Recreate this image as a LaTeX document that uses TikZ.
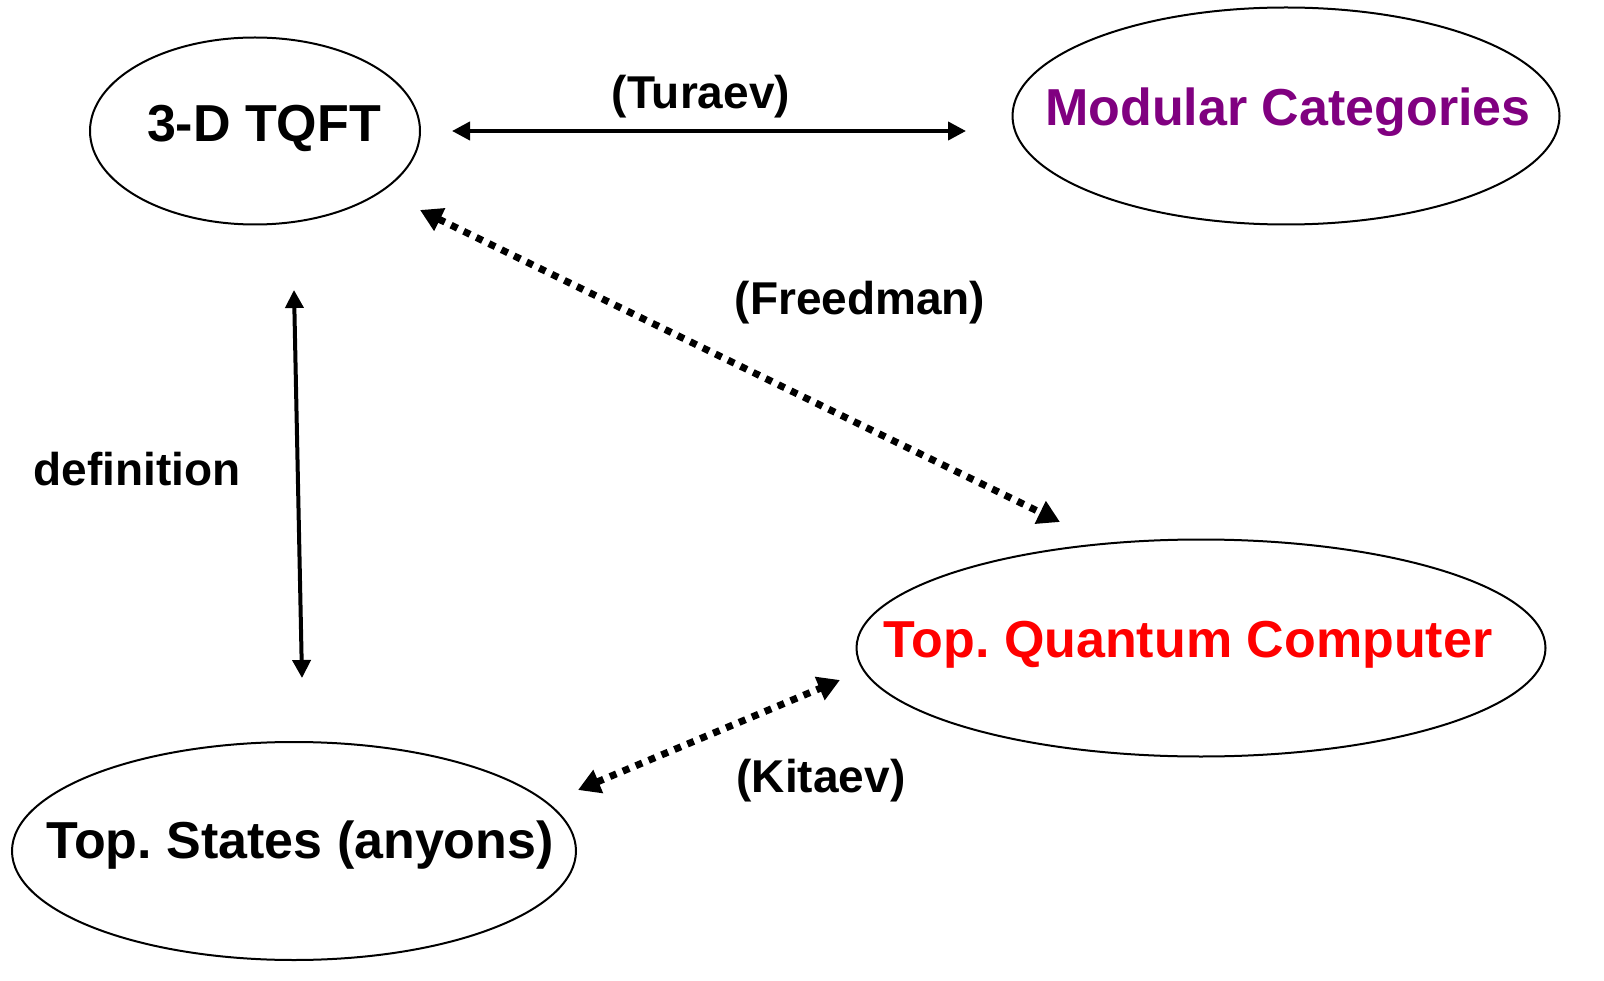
\documentclass[tikz,border=0pt]{standalone}
\usepackage{fontspec}
\setmainfont{Liberation Sans}
\usetikzlibrary{arrows.meta}
\usetikzlibrary{shapes.geometric}
\definecolor{modpurple}{RGB}{128,0,128}
\definecolor{tqcred}{RGB}{255,0,0}
\tikzset{
	bubble/.style={draw, ellipse, line width=2pt, inner sep=0pt},
	bigtext/.style={font=\fontsize{52}{60}\selectfont\bfseries},
	linktext/.style={font=\fontsize{46}{54}\selectfont\bfseries},
	solidlink/.style={line width=4pt, {Triangle[length=18pt,width=18pt]}-{Triangle[length=18pt,width=18pt]}},
	dotlink/.style={line width=7pt, dash pattern=on 7pt off 7pt, {Triangle[length=22pt,width=24pt]}-{Triangle[length=22pt,width=24pt]}}
}
\newcommand{\drawLink}[3]{
	\draw[#3] (#1) -- (#2);
}
\frenchspacing

\begin{document}
\begin{tikzpicture}[x=1pt, y=-1pt]
	\useasboundingbox (0,0) rectangle (1604,981);

	\node[bubble, minimum width=330pt, minimum height=187pt] (TQFT) at (255,131) {};
	\node[bigtext] (TQFT_T) at (264,128) {3-D TQFT};
	\node[bubble, minimum width=547pt, minimum height=217pt] (MOD) at (1286,116) {};
	\node[bigtext, text=modpurple] (MOD_T) at (1288,112) {Modular Categories};
	\node[bubble, minimum width=689pt, minimum height=217pt] (TQC) at (1201,648) {};
	\node[bigtext, text=tqcred] (TQC_T) at (1188,645) {Top. Quantum Computer};
	\node[bubble, minimum width=564pt, minimum height=218pt] (TS) at (294,851) {};
	\node[bigtext] (TS_T) at (300,845) {Top. States (anyons)};

	\coordinate (TU_L) at (452,131);
	\coordinate (TU_R) at (966,131);
	\coordinate (FR_L) at (420,210);
	\coordinate (FR_R) at (1060,522);
	\coordinate (DE_T) at (294,290);
	\coordinate (DE_B) at (302,678);
	\coordinate (KI_L) at (578,790);
	\coordinate (KI_R) at (840,680);

	\drawLink{TU_L}{TU_R}{solidlink}
	\drawLink{DE_T}{DE_B}{solidlink}
	\drawLink{FR_L}{FR_R}{dotlink}
	\drawLink{KI_L}{KI_R}{dotlink}

	\node[linktext] (TU_T) at (701,97) {(Turaev)};
	\node[linktext] (FR_T) at (860,303) {(Freedman)};
	\node[linktext] (DE_X) at (137,469) {definition};
	\node[linktext] (KI_T) at (821,781) {(Kitaev)};
\end{tikzpicture}
\end{document}
